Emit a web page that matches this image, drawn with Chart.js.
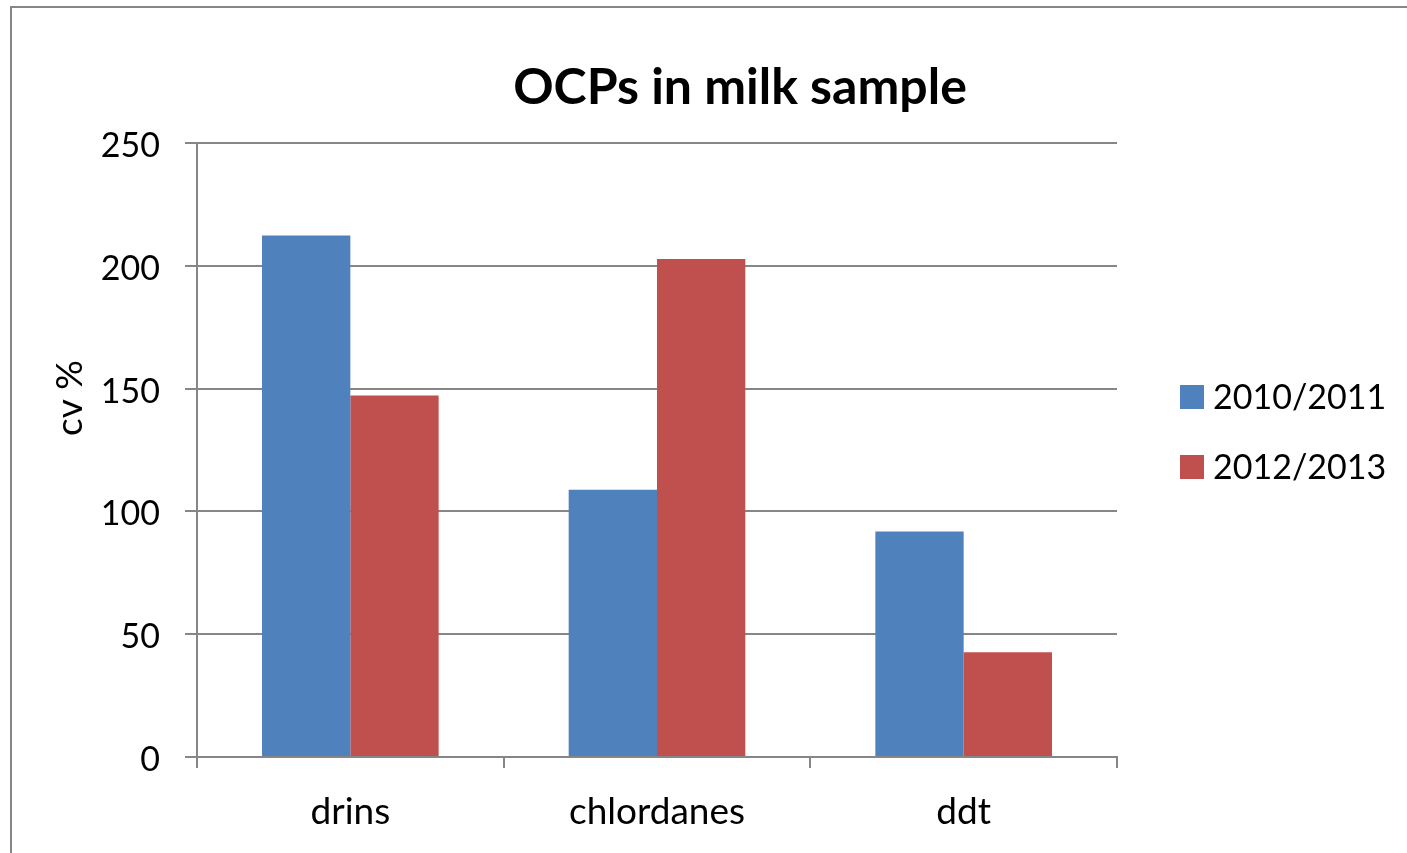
<!DOCTYPE html>
<html>
<head>
<meta charset="utf-8">
<title>OCPs in milk sample</title>
<script src="https://cdn.jsdelivr.net/npm/chart.js@4/dist/chart.umd.min.js"></script>
<style>
  html, body { margin: 0; padding: 0; background: #ffffff; overflow: hidden; }
  #wrap { position: relative; width: 1407px; height: 853px; }
  #frame {
    position: absolute; left: 10px; top: 6px; right: -10px; bottom: -10px;
    border-left: 2px solid #868686; border-top: 2px solid #868686;
    pointer-events: none;
  }
  canvas { position: absolute; left: 0; top: 0; }
</style>
</head>
<body>
<div id="wrap">
  <canvas id="chart" width="1407" height="853"></canvas>
  <div id="frame"></div>
</div>
<script>
// Pesticide groups and their coefficient of variation per survey period
const categories = ['drins', 'chlordanes', 'ddt'];
const seriesNames = ['2010/2011', '2012/2013'];
const values2010 = [212.3, 108.8, 91.8];
const values2012 = [147.2, 202.8, 42.7];
const seriesColors = ['#4F81BD', '#C0504D'];
const yTicks = [0, 50, 100, 150, 200, 250];
const chartTitle = 'OCPs in milk sample';
const yTitle = 'cv %';

const FONT = 'Lato, "Open Sans", "DejaVu Sans", sans-serif';
const GRID = '#868686';

// Title, legend and axis title placed around the plot area
const sideText = {
  id: 'sideText',
  afterDraw(chart) {
    const ctx = chart.ctx;
    const area = chart.chartArea;
    ctx.save();
    ctx.fillStyle = '#000000';
    ctx.textBaseline = 'middle';

    // chart title
    ctx.font = 'bold 50px ' + FONT;
    ctx.textAlign = 'center';
    ctx.fillText(chartTitle, 740, 88);

    // legend
    ctx.font = '34px ' + FONT;
    ctx.textAlign = 'left';
    const lx = area.right + 63;
    const ly = 397;
    chart.data.datasets.forEach((ds, i) => {
      const y = ly + i * 70;
      ctx.fillStyle = ds.backgroundColor;
      ctx.fillRect(lx, y - 12, 24, 24);
      ctx.fillStyle = '#000000';
      ctx.fillText(ds.label, lx + 33, y + 1);
    });

    // rotated y-axis title
    ctx.font = '37px ' + FONT;
    ctx.translate(70, 398);
    ctx.rotate(-Math.PI / 2);
    ctx.textAlign = 'center';
    ctx.fillText(yTitle, 0, 0);
    ctx.restore();
  }
};

new Chart(document.getElementById('chart'), {
  type: 'bar',
  data: {
    labels: categories,
    datasets: [
      { label: seriesNames[0], data: values2010, backgroundColor: seriesColors[0] },
      { label: seriesNames[1], data: values2012, backgroundColor: seriesColors[1] }
    ]
  },
  plugins: [sideText],
  options: {
    responsive: false,
    animation: false,
    devicePixelRatio: 1,
    layout: { padding: { left: 0, right: 290, top: 143, bottom: 0 } },
    datasets: { bar: { categoryPercentage: 0.576, barPercentage: 1.0, borderWidth: 0 } },
    plugins: {
      legend: { display: false },
      tooltip: { enabled: false },
      title: { display: false }
    },
    scales: {
      x: {
        offset: true,
        grid: {
          offset: true,
          drawOnChartArea: false,
          drawTicks: true,
          tickLength: 11,
          color: GRID,
          lineWidth: 2
        },
        border: { display: true, color: GRID, width: 2 },
        ticks: {
          color: '#000000',
          font: { family: FONT, size: 37 },
          padding: 22
        },
        afterFit(scale) { scale.height = 96; }
      },
      y: {
        min: 0,
        max: 250,
        afterBuildTicks(scale) { scale.ticks = yTicks.map(v => ({ value: v })); },
        grid: {
          color: GRID,
          lineWidth: 2,
          drawTicks: true,
          tickLength: 12
        },
        border: { display: true, color: GRID, width: 2 },
        ticks: {
          color: '#000000',
          font: { family: FONT, size: 34 },
          padding: 25,
          labelOffset: 3
        },
        afterFit(scale) { scale.width = 197; }
      }
    }
  }
});
</script>
</body>
</html>
